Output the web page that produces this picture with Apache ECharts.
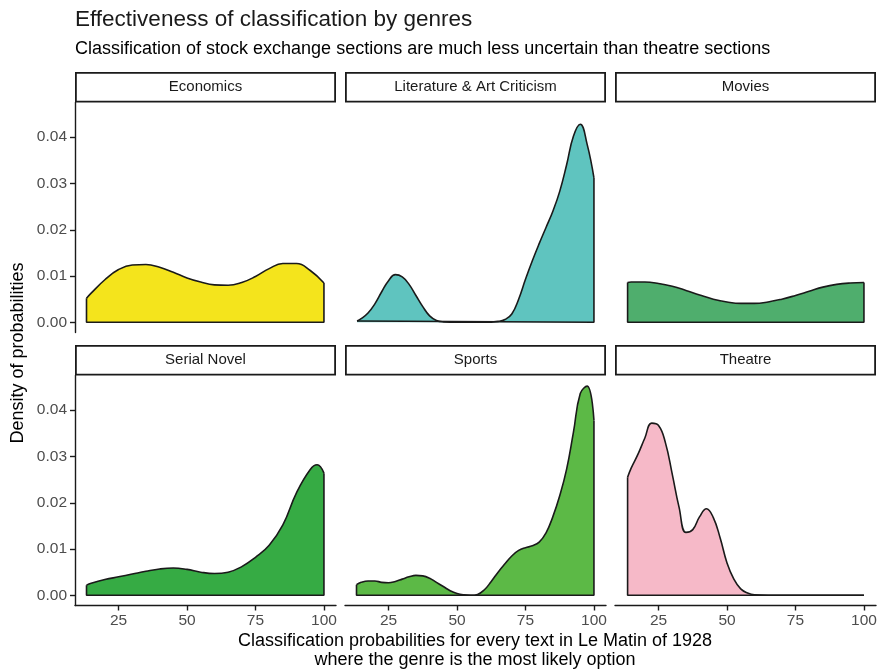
<!DOCTYPE html>
<html>
<head>
<meta charset="utf-8">
<style>
  html, body { margin: 0; padding: 0; background: #ffffff; }
  #chart { width: 880px; height: 672px; }
</style>
<script src="https://cdn.jsdelivr.net/npm/echarts@6/dist/echarts.min.js"></script>
</head>
<body>
<div id="chart"></div>
<script>
// Facet labels and fills, in panel order (row by row)
const genres = ['Economics', 'Literature & Art Criticism', 'Movies', 'Serial Novel', 'Sports', 'Theatre'];
const fillColors = ['#f4e41c', '#5fc4bf', '#4fae6d', '#36ab44', '#5cb946', '#f6b9c8'];

// Kernel density estimates: classification probability (%) -> density
const economicsX = [13.3, 15, 20, 25, 30, 35, 40, 45, 50, 55, 60, 65, 70, 75, 80, 85, 90, 95, 100];
const economicsDensity = [0.0052, 0.0063, 0.0092, 0.0114, 0.0124, 0.0125, 0.0119, 0.0108, 0.0096, 0.0087, 0.0081, 0.0080, 0.0086, 0.0099, 0.0116, 0.0127, 0.0127, 0.0112, 0.0085];

const literatureX = [13.5, 15, 17.5, 20, 22.5, 25, 27.5, 30, 32.5, 35, 37.5, 40, 42.5, 45, 50, 55, 60, 65, 67.5, 70, 72.5, 75, 77.5, 80, 82.5, 85, 87.5, 90, 92.5, 95, 97.5, 100];
const literatureDensity = [0.0003, 0.0008, 0.0020, 0.0040, 0.0066, 0.0090, 0.0103, 0.0098, 0.0082, 0.0058, 0.0034, 0.0014, 0.0004, 0.0001, 0, 0, 0, 0.0002, 0.0006, 0.0018, 0.0050, 0.0093, 0.0133, 0.0170, 0.0205, 0.0240, 0.0283, 0.0340, 0.0402, 0.0428, 0.0385, 0.0312];

const moviesX = [13.7, 15, 20, 25, 30, 35, 40, 45, 50, 55, 60, 65, 70, 75, 80, 85, 90, 95, 100];
const moviesDensity = [0.0086, 0.0087, 0.0087, 0.0084, 0.0078, 0.0069, 0.0059, 0.0050, 0.0044, 0.0041, 0.0041, 0.0044, 0.0050, 0.0058, 0.0067, 0.0076, 0.0082, 0.0085, 0.0086];

const serialNovelX = [13.3, 15, 20, 25, 30, 35, 40, 45, 50, 55, 60, 65, 70, 75, 80, 85, 90, 95, 97.5, 100];
const serialNovelDensity = [0.0022, 0.0026, 0.0034, 0.0040, 0.0046, 0.0052, 0.0057, 0.0059, 0.0056, 0.0050, 0.0047, 0.0050, 0.0062, 0.0082, 0.0108, 0.0152, 0.0222, 0.0272, 0.0282, 0.0264];

const sportsX = [13.3, 15, 17.5, 20, 22.5, 25, 27.5, 30, 32.5, 35, 37.5, 40, 42.5, 45, 47.5, 50, 52.5, 55, 57.5, 60, 62.5, 65, 67.5, 70, 72.5, 75, 77.5, 80, 82.5, 85, 87.5, 90, 92.5, 95, 97.5, 100];
const sportsDensity = [0.0023, 0.0028, 0.0031, 0.0031, 0.0028, 0.0027, 0.0030, 0.0035, 0.0040, 0.0043, 0.0042, 0.0037, 0.0028, 0.0019, 0.0010, 0.0004, 0.0001, 0.0000, 0.0002, 0.0012, 0.0030, 0.0050, 0.0068, 0.0085, 0.0097, 0.0103, 0.0107, 0.0115, 0.0135, 0.0170, 0.0215, 0.0272, 0.0352, 0.0436, 0.0452, 0.0378];

const theatreX = [13.7, 15, 17.5, 20, 22.5, 25, 27.5, 30, 32.5, 35, 37.5, 40, 42.5, 45, 47.5, 50, 52.5, 55, 57.5, 60, 65, 70, 75, 80, 85, 90, 95, 100];
const theatreDensity = [0.0255, 0.0275, 0.0305, 0.0340, 0.0372, 0.0367, 0.0330, 0.0262, 0.0190, 0.0136, 0.0142, 0.0170, 0.0187, 0.0168, 0.0124, 0.0070, 0.0035, 0.0014, 0.0005, 0.0001, 0, 0, 0, 0, 0, 0, 0, 0];

const xTicks = [25, 50, 75, 100];
const yTicks = [0, 0.01, 0.02, 0.03, 0.04];

const panelData = [[economicsX, economicsDensity], [literatureX, literatureDensity], [moviesX, moviesDensity],
                   [serialNovelX, serialNovelDensity], [sportsX, sportsDensity], [theatreX, theatreDensity]];

// Layout of the 3 x 2 facet grid
const colLeft = [75, 345, 615];
const rowTop = [102.5, 375.5];
const panelW = 261;
const panelH = 230;
const stripH = 30.5;
const FONT = '"Liberation Sans", Arial, sans-serif';
const INK = '#1a1a1a';
const TICK_TEXT = '#4d4d4d';

const grids = [], xAxes = [], yAxes = [], series = [], graphics = [];

genres.forEach((name, i) => {
  const row = Math.floor(i / 3), col = i % 3;
  const left = colLeft[col], top = rowTop[row];
  grids.push({ left: left, top: top, width: panelW, height: panelH, containLabel: false });

  const showX = row === 1, showY = col === 0;
  xAxes.push({
    type: 'value', gridIndex: i, min: 9.1, max: 104.4,
    axisLine: { show: showX, onZero: false, lineStyle: { color: INK, width: 1.4 } },
    axisTick: { show: showX, length: 5, customValues: xTicks, lineStyle: { color: INK, width: 1.4 } },
    axisLabel: { show: showX, customValues: xTicks, color: TICK_TEXT, fontSize: 15.5, fontFamily: FONT, margin: 7 },
    splitLine: { show: false }
  });
  yAxes.push({
    type: 'value', gridIndex: i, min: -0.0022, max: 0.0475,
    axisLine: { show: showY, lineStyle: { color: INK, width: 1.4 } },
    axisTick: { show: showY, length: 5, customValues: yTicks, lineStyle: { color: INK, width: 1.4 } },
    axisLabel: { show: showY, customValues: yTicks, color: TICK_TEXT, fontSize: 15.5, fontFamily: FONT, margin: 8,
                 formatter: v => v.toFixed(2) },
    splitLine: { show: false }
  });

  const xs = panelData[i][0], ds = panelData[i][1];
  const pts = xs.map((x, k) => [x, ds[k]]);
  const n = xs.length - 1;

  // filled density curve
  series.push({
    type: 'line', xAxisIndex: i, yAxisIndex: i, data: pts,
    smooth: 0.45, showSymbol: false, silent: true,
    lineStyle: { color: INK, width: 1.6 },
    areaStyle: { color: fillColors[i], opacity: 1, origin: 0 },
    z: 2
  });
  // closing outline: the two vertical ends and the baseline
  series.push({
    type: 'line', xAxisIndex: i, yAxisIndex: i,
    data: [[xs[0], ds[0]], [xs[0], 0], [xs[n], 0], [xs[n], ds[n]]],
    showSymbol: false, silent: true,
    lineStyle: { color: INK, width: 1.6 },
    z: 3
  });

  // facet strip
  graphics.push({
    type: 'rect', shape: { x: left + 0.9, y: top - stripH + 0.9, width: panelW - 1.8, height: stripH - 1.8 },
    style: { fill: '#ffffff', stroke: INK, lineWidth: 1.8 }
  });
  graphics.push({
    type: 'text', x: left + panelW / 2, y: top - stripH / 2,
    style: { text: name, fill: INK, font: '15px ' + FONT, textAlign: 'center', textVerticalAlign: 'middle' }
  });
});

// titles and axis names
graphics.push({
  type: 'text', x: 75, y: 20,
  style: { text: 'Effectiveness of classification by genres', fill: INK, font: '22.5px ' + FONT, textVerticalAlign: 'middle' }
});
graphics.push({
  type: 'text', x: 75, y: 49,
  style: { text: 'Classification of stock exchange sections are much less uncertain than theatre sections', fill: '#000000', font: '18px ' + FONT, textVerticalAlign: 'middle' }
});
graphics.push({
  type: 'text', x: 475, y: 641,
  style: { text: 'Classification probabilities for every text in Le Matin of 1928', fill: '#000000', font: '18px ' + FONT, textAlign: 'center', textVerticalAlign: 'middle' }
});
graphics.push({
  type: 'text', x: 475, y: 660,
  style: { text: 'where the genre is the most likely option', fill: '#000000', font: '18px ' + FONT, textAlign: 'center', textVerticalAlign: 'middle' }
});
graphics.push({
  type: 'text', x: 18, y: 353, rotation: Math.PI / 2,
  style: { text: 'Density of probabilities', fill: '#000000', font: '18px ' + FONT, textAlign: 'center', textVerticalAlign: 'middle' }
});

const chart = echarts.init(document.getElementById('chart'), null, { renderer: 'canvas' });
chart.setOption({
  backgroundColor: '#ffffff',
  animation: false,
  grid: grids,
  xAxis: xAxes,
  yAxis: yAxes,
  series: series,
  graphic: graphics
});
</script>
</body>
</html>
